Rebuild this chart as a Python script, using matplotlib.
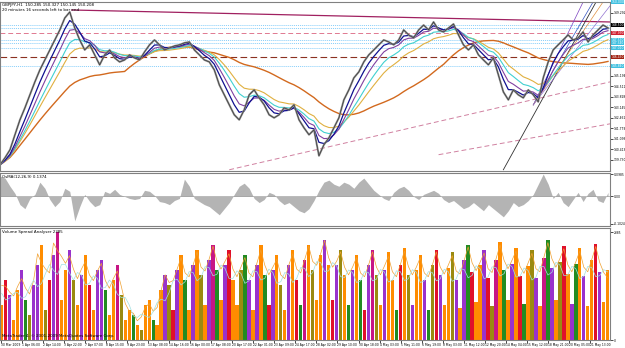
import numpy as np
import pandas as pd
import matplotlib
matplotlib.use("Agg")
import matplotlib.pyplot as plt

# GBPJPY H1 closes, sampled along the chart
close = [139.40, 139.86, 140.38, 141.36, 142.33, 143.11, 143.96, 144.80, 145.58, 146.23,
         146.88, 147.53, 148.18, 148.96, 149.35, 148.31, 147.53, 146.88, 147.21, 146.56,
         145.91, 146.56, 146.88, 146.36, 146.10, 146.23, 146.56, 146.36, 146.23, 146.75,
         147.21, 147.53, 147.21, 146.88, 147.01, 147.14, 147.21, 147.34, 147.40, 146.88,
         146.56, 146.23, 146.10, 145.58, 144.61, 143.96, 143.31, 142.66, 142.33, 142.98,
         143.96, 144.28, 143.76, 143.31, 142.66, 142.46, 142.66, 143.11, 142.98, 143.31,
         142.33, 141.81, 141.36, 141.68, 139.99, 140.71, 141.16, 141.81, 142.46, 143.63,
         144.28, 145.06, 145.45, 146.10, 146.56, 146.88, 147.21, 147.53, 147.40, 147.21,
         147.53, 148.18, 147.86, 147.66, 148.18, 148.50, 148.18, 148.70, 148.18, 148.05,
         148.31, 148.57, 147.86, 147.21, 146.88, 147.21, 146.56, 146.23, 145.91, 146.36,
         145.26, 144.15, 143.63, 144.28, 143.96, 143.76, 144.28, 143.96, 143.50, 145.06,
         146.10, 146.88, 147.21, 147.53, 147.86, 147.53, 147.66, 148.05, 147.40, 147.86,
         148.18, 148.50, 148.31]

osma = [20, 18, 10, 3, -8, -12, -2, 2, 14, 8, -3, -10, -5, 8, 5, -24, -10, 2, -5, -10,
        -8, 5, 3, 7, 2, 0, -2, -3, -2, 6, 5, 1, -5, -6, -8, -4, -2, 17, 10, -2,
        -5, -8, -10, -14, -18, -12, -6, 2, 10, 13, 8, -2, -6, -3, 4, 2, -4, -8, -6, -10,
        -14, -16, -12, -4, 6, 14, 16, 12, 10, 14, 12, 8, 14, 18, 12, 6, 2, -2, -4, 4,
        8, 10, 6, 0, -3, 2, 4, 6, 3, -3, -6, -4, -8, -12, -10, -6, -10, -14, -8, -12,
        -16, -20, -14, -6, -10, -8, -4, 2, 12, 22, 12, -2, 4, -6, -10, -3, 4, -5, 3, 7,
        -4, -6, 4]

volume = [35, 60, 45, 20, 50, 70, 40, 25, 55, 75, 95, 30, 60, 85, 108, 40,
          70, 90, 60, 35, 65, 85, 55, 30, 70, 80, 50, 25, 60, 75, 45, 20,
          30, 25, 15, 10, 35, 40, 20, 15, 50, 65, 55, 30, 70, 85, 60, 30,
          75, 90, 65, 35, 80, 95, 70, 40, 75, 90, 60, 35, 70, 85, 60, 30,
          75, 95, 65, 35, 70, 85, 55, 30, 75, 90, 60, 35, 80, 95, 70, 40,
          85, 100, 75, 40, 75, 90, 65, 35, 70, 85, 60, 30, 75, 90, 65, 35,
          70, 88, 60, 30, 75, 92, 65, 35, 70, 85, 60, 30, 75, 90, 65, 35,
          72, 88, 60, 32, 80, 95, 68, 38, 75, 90, 62, 34, 80, 98, 70, 40,
          76, 92, 64, 36, 74, 90, 62, 34, 82, 100, 72, 40, 78, 94, 66, 36,
          76, 92, 64, 34, 80, 96, 68, 38, 70]
vol_codes = ("orpoopgyppoyrpmo" "opyoporoppgoomyo" "ogoyoogoopyrpogo" "poyopmgoprooygpo"
             "pogrpoyoporgmoyo" "oporpyogpogrpmyo" "poogroypoopgyrpo" "oypopgrooprymogo"
             "porgoypomgpoyrop" "gopo")
vol_palette = {"o": "#ff8c00", "p": "#9932cc", "g": "#228b22", "r": "#e0102a",
               "y": "#9a8a10", "m": "#c71585"}

date_labels = ["30 Mar 2009", "1 Apr 06:00", "2 Apr 14:00", "3 Apr 22:00", "7 Apr 07:00",
               "8 Apr 15:00", "9 Apr 23:00", "13 Apr 08:00", "14 Apr 16:00", "16 Apr 00:00",
               "17 Apr 08:00", "20 Apr 17:00", "22 Apr 01:00", "23 Apr 09:00", "24 Apr 17:00",
               "28 Apr 02:00", "29 Apr 10:00", "30 Apr 18:00", "4 May 03:00", "5 May 11:00",
               "6 May 19:00", "8 May 03:00", "11 May 12:00", "12 May 20:00", "14 May 04:00",
               "15 May 12:00", "18 May 21:00", "20 May 05:00", "21 May 13:00"]

dotted_levels = [148.50, 148.31, 147.53, 147.34, 147.01, 145.84]
pink_level = 147.99
brown_level = 146.43

fs = 2.9
lfs = 2.2
fig = plt.figure(figsize=(6.25, 3.48), dpi=100)
W, H = 625.0, 348.0
R = 610 / W
ax = fig.add_axes([0, (H - 171) / H, R, 169 / H])
ax2 = fig.add_axes([0, (H - 226) / H, R, 53 / H])
ax3 = fig.add_axes([0, (H - 340) / H, R, 112 / H])

x = np.arange(len(close))
xmax = 122.4
s = pd.Series(close)

# levels
for lv in dotted_levels:
    ax.axhline(lv, color="#87cefa", lw=0.7, ls=(0, (1, 1)))
ax.axhline(pink_level, color="#e07890", lw=0.7, ls=(0, (5, 3)))
ax.axhline(brown_level, color="#8b3020", lw=0.8, ls=(0, (6, 3)))

# trend lines
ax.plot([14.4, xmax], [149.48, 148.70], color="#a02060", lw=0.9)
ax.plot([46, xmax], [139.08, 144.80], color="#d080a0", lw=0.7, ls=(0, (5, 3)))
ax.plot([88, xmax], [140.06, 142.07], color="#d080a0", lw=0.7, ls=(0, (5, 3)))
ax.plot([101, 119.6], [139.08, 150.0], color="#303030", lw=0.6)
for xe, c in zip([117, 119, 121, 123], ["#7b40c0", "#3050c0", "#e09040", "#9070d0"]):
    ax.plot([107, xe], [143.3, 150.0], color=c, lw=0.5)

# moving averages
ax.plot(x, s.rolling(26, min_periods=1).mean(), color="#d2691e", lw=1.0)
ax.plot(x, s.ewm(span=12).mean(), color="#e0b040", lw=0.8)
ax.plot(x, s.ewm(span=8).mean(), color="#40d0d0", lw=0.8)
ax.plot(x, s.ewm(span=5).mean(), color="#8040a0", lw=0.8)
ax.plot(x, s.ewm(span=3).mean(), color="#101090", lw=0.9)

# price bars
ax.plot(x, close, color="#8a8a8a", lw=1.4)
ax.plot(x, close, color="#303030", lw=0.4)

ax.set_xlim(0, xmax)
ax.set_ylim(139.0, 150.0)
boxes = [(150.0, "#40c0e0", "150.000"), (148.50, "#000000", "148.500"),
         (147.99, "#d02030", "147.990"), (147.53, "#40c0e0", "147.530"),
         (147.34, "#40c0e0", "147.340"), (147.01, "#40c0e0", "147.010"),
         (146.43, "#a02010", "146.430"), (145.84, "#40c0e0", "145.840")]
yt = [v for v in np.arange(139.73, 150.1, 0.683) if min(abs(v - b[0]) for b in boxes) > 0.3]
ax.set_yticks(yt)
ax.set_yticklabels(["%.3f" % v for v in yt])
ax.yaxis.tick_right()
ax.tick_params(axis="y", labelsize=lfs, length=2, pad=0.6, width=0.5)
ax.set_xticks([])

for yv, bc, t in boxes:
    ax.text(1.002, yv, t, transform=ax.get_yaxis_transform(), fontsize=lfs, color="white",
            va="center", ha="left", bbox=dict(boxstyle="square,pad=0.1", fc=bc, ec="none"))

ax.text(0.003, 0.995, "GBPJPY,H1  150.285 150.327 150.145 150.208", transform=ax.transAxes,
        fontsize=fs, va="top")
ax.text(0.003, 0.965, "20 minutes 16 seconds left to bar end", transform=ax.transAxes,
        fontsize=fs, va="top")

# OsMA
ox = np.arange(len(osma))
ov = np.array(osma) / 250.0
ax2.fill_between(ox, 0, ov, color="#b4b4b4", lw=0)
ax2.axhline(0, color="#a0a0a0", lw=0.5)
ax2.set_xlim(0, xmax)
ax2.set_ylim(-29 / 250.0, 23 / 250.0)
ax2.set_yticks([22 / 250.0, 0, -27 / 250.0])
ax2.set_yticklabels(["0.0985", "0.00", "-0.1024"])
ax2.yaxis.tick_right()
ax2.tick_params(axis="y", labelsize=lfs, length=2, pad=0.6, width=0.5)
ax2.set_xticks([])
ax2.text(0.003, 0.97, "OsMA(12,26,9) 0.1374", transform=ax2.transAxes, fontsize=fs, va="top")

# volume
vx = np.arange(len(volume)) * 0.8
vcol = [vol_palette[c] for c in vol_codes[:len(volume)]]
ax3.bar(vx, volume, width=0.68, align="edge", color=vcol, lw=0)
vs = pd.Series(volume, dtype=float)
ax3.plot(vx + 0.34, vs.rolling(3, center=True, min_periods=1).mean() * 1.15, color="#f0a030", lw=0.5)
ax3.plot(vx + 0.34, vs.rolling(6, center=True, min_periods=1).mean(), color="#a0e0e0", lw=0.5)
ax3.set_xlim(0, xmax)
ax3.set_ylim(0, 112)
ax3.set_yticks([108, 0])
ax3.set_yticklabels(["2385", "0"])
ax3.yaxis.tick_right()
ax3.tick_params(axis="y", labelsize=lfs, length=2, pad=0.6, width=0.5)
xt = [(1 + 21.1 * k) / 5.0 for k in range(len(date_labels))]
ax3.set_xticks(xt)
ax3.set_xticklabels(date_labels, ha="left")
ax3.tick_params(axis="x", labelsize=2.2, length=2, pad=0.5, width=0.5)
ax3.text(0.003, 0.985, "Volume Spread Analyser 2385", transform=ax3.transAxes, fontsize=fs, va="top")
ax3.text(0.003, 0.02, "MetaTrader 4, \u00a9 2001-2009 MetaQuotes Software Corp.", transform=ax3.transAxes,
         fontsize=fs, va="bottom")

for a in (ax, ax2, ax3):
    for sp in a.spines.values():
        sp.set_color("#808080")
        sp.set_linewidth(0.8)

fig.savefig("out.png", dpi=100)
